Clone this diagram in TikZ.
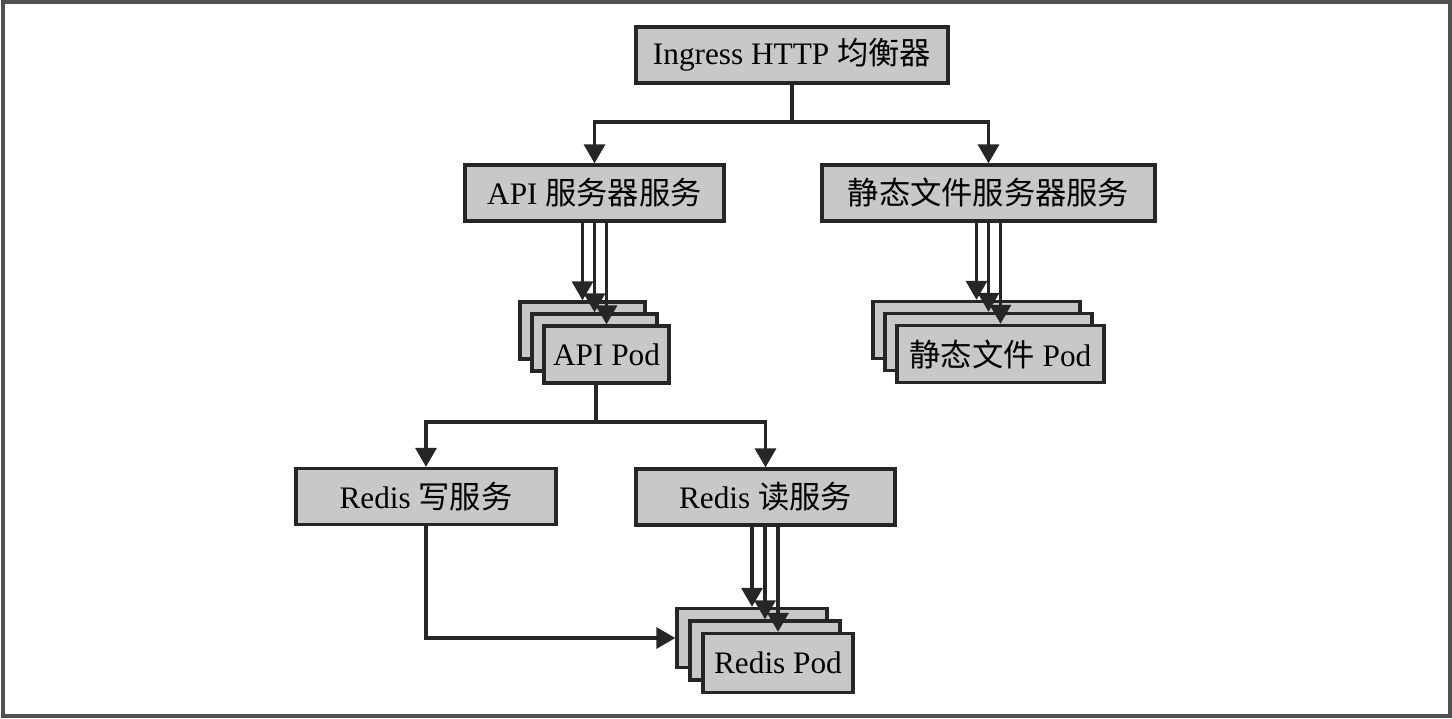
\documentclass[tikz,border=0pt]{standalone}
\usepackage{fontspec}
\setmainfont{Liberation Serif}
\newfontfamily\cjk{Noto Sans CJK SC}
\usepackage{tikz}
\usetikzlibrary{arrows.meta, calc}
\definecolor{boxgray}{RGB}{200, 200, 200}
\definecolor{linedark}{RGB}{38, 38, 38}
\definecolor{framegray}{RGB}{80, 80, 80}
\newcommand{\zh}[1]{{\cjk #1}}

\tikzset{
  svcbox/.style={draw=linedark, fill=boxgray, line width=0.95pt, inner sep=0pt,
    minimum height=0.56cm, font=\fontsize{8.9}{11}\selectfont},
  podbox/.style={svcbox, minimum height=0.57cm},
  arr/.style={draw=linedark, line width=0.95pt, -{Triangle[width=0.21cm, length=0.19cm]}}
}

\begin{document}
\begin{tikzpicture}
    \useasboundingbox (0,0) rectangle (14.52,-7.18);
    % outer frame
    \draw[framegray, line width=1.1pt] (0.03,-0.02) rectangle (14.50,-7.16);
    % top: load balancer and services
    \node[svcbox, minimum width=3.12cm] (ingress) at (7.92,-0.55) {Ingress HTTP \zh{均衡器}};
    \node[svcbox, minimum width=2.59cm] (apisvc) at (5.945,-1.93) {API \zh{服务器服务}};
    \node[svcbox, minimum width=3.33cm] (staticsvc) at (9.885,-1.93) {\zh{静态文件服务器服务}};
    % pod stacks, back to front
    \node[podbox, minimum width=1.25cm] (apod3) at (5.825,-3.305) {};
    \node[podbox, minimum width=1.25cm] (apod2) at (5.945,-3.425) {};
    \node[podbox, minimum width=1.25cm] (apod1) at (6.065,-3.545) {API Pod};
    \node[podbox, minimum width=2.07cm] (spod3) at (9.765,-3.30) {};
    \node[podbox, minimum width=2.07cm] (spod2) at (9.885,-3.42) {};
    \node[podbox, minimum width=2.07cm] (spod1) at (10.005,-3.54) {\zh{静态文件} Pod};
    % redis services
    \node[svcbox, minimum width=2.60cm] (rwrite) at (4.26,-4.965) {Redis \zh{写服务}};
    \node[svcbox, minimum width=2.59cm] (rread) at (7.655,-4.97) {Redis \zh{读服务}};
    \node[podbox, minimum width=1.50cm, minimum height=0.59cm] (rpod3) at (7.52,-6.38) {};
    \node[podbox, minimum width=1.50cm, minimum height=0.59cm] (rpod2) at (7.65,-6.505) {};
    \node[podbox, minimum width=1.50cm, minimum height=0.59cm] (rpod1) at (7.78,-6.63) {Redis Pod};
    % connectors
    \coordinate (split1) at (7.92,-1.22);
    \draw[arr] (ingress.south) -- (split1) -| (apisvc.north);
    \draw[arr] (split1) -| (staticsvc.north);
    \foreach \p in {apod3, apod2, apod1}
      \draw[arr] (\p.north |- apisvc.south) -- (\p.north);
    \foreach \p in {spod3, spod2, spod1}
      \draw[arr] (\p.north |- staticsvc.south) -- (\p.north);
    \coordinate (split2) at (5.96,-4.22);
    \draw[draw=linedark, line width=0.95pt] (split2 |- apod1.south) -- (split2);
    \draw[arr] (split2) -| (rwrite.north);
    \draw[arr] (split2) -| (rread.north);
    \foreach \p in {rpod3, rpod2, rpod1}
      \draw[arr] (\p.north |- rread.south) -- (\p.north);
    \draw[arr] (rwrite.south) |- (rpod3.west);
\end{tikzpicture}
\end{document}
